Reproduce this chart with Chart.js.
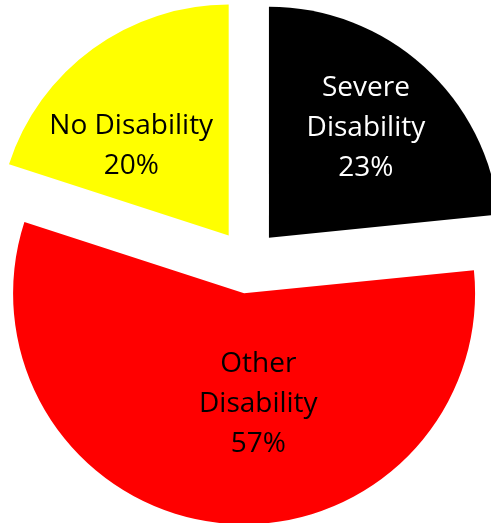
<!DOCTYPE html>
<html>
<head>
<meta charset="utf-8">
<script src="https://cdn.jsdelivr.net/npm/chart.js@4/dist/chart.umd.min.js"></script>
<style>
  html, body { margin: 0; padding: 0; background: #fff; }
  #wrap { width: 491px; height: 523px; position: relative; }
</style>
</head>
<body>
<div id="wrap"><canvas id="myChart"></canvas></div>
<script>
// slice data, clockwise from 12 o'clock
const categories = ['Severe Disability', 'Other Disability', 'No Disability'];
const shares = [23.4, 56.6, 20];
const pctLabels = ['23%', '57%', '20%'];
const labelLines = [['Severe', 'Disability'], ['Other', 'Disability'], ['No Disability']];

const sliceColors = ['#000000', '#ff0000', '#ffff00'];
const textColors = ['#ffffff', '#000000', '#000000'];

const EXPLODE = 32;       // px each slice is pulled out
const LABEL_FRAC = 0.6;   // label distance as share of radius
const labelNudge = [[4, -9], [29, -29], [-16, 21]];
const FONT_SIZE = 28;
const LINE_H = 40;

// draw the slices pulled apart, then the labels on top
const explodedPie = {
    id: 'explodedPie',
    beforeDatasetDraw(chart, args) {
        const ctx = chart.ctx;
        args.meta.data.forEach(arc => {
            const mid = (arc.startAngle + arc.endAngle) / 2;
            ctx.save();
            ctx.translate(Math.cos(mid) * EXPLODE, Math.sin(mid) * EXPLODE);
            arc.draw(ctx);
            ctx.restore();
        });
        return false;
    },
    afterDatasetsDraw(chart) {
        const ctx = chart.ctx;
        const arcs = chart.getDatasetMeta(0).data;
        ctx.save();
        ctx.font = FONT_SIZE + 'px "Open Sans"';
        ctx.textAlign = 'center';
        ctx.textBaseline = 'alphabetic';
        arcs.forEach((arc, i) => {
            const mid = (arc.startAngle + arc.endAngle) / 2;
            const dist = EXPLODE + arc.outerRadius * LABEL_FRAC;
            const cx = arc.x + Math.cos(mid) * dist + labelNudge[i][0];
            const cy = arc.y + Math.sin(mid) * dist + labelNudge[i][1];
            const lines = labelLines[i].concat([pctLabels[i]]);
            const top = cy - (lines.length - 1) * LINE_H / 2;
            ctx.fillStyle = textColors[i];
            lines.forEach((t, k) => {
                ctx.fillText(t, cx, top + k * LINE_H + FONT_SIZE * 0.357);
            });
        });
        ctx.restore();
    }
};

const ctx = document.getElementById('myChart').getContext('2d');
new Chart(ctx, {
    type: 'pie',
    data: {
        labels: categories,
        datasets: [{
            data: shares,
            backgroundColor: sliceColors,
            borderWidth: 0,
            radius: 231
        }]
    },
    options: {
        responsive: true,
        maintainAspectRatio: false,
        animation: false,
        layout: { padding: { left: 4 } },
        plugins: {
            legend: { display: false },
            tooltip: { enabled: false }
        }
    },
    plugins: [explodedPie]
});
</script>
</body>
</html>
